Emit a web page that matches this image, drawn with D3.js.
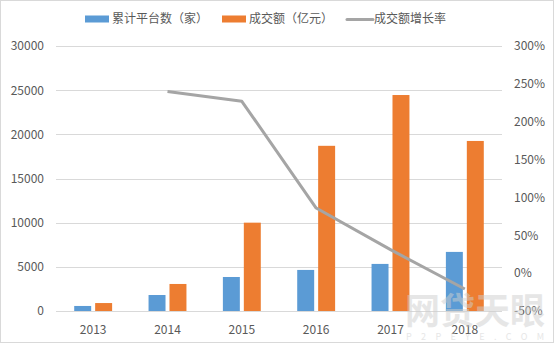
<!DOCTYPE html>
<html>
<head>
<meta charset="utf-8">
<script src="https://cdn.jsdelivr.net/npm/d3@7/dist/d3.min.js"></script>
<style>
  html, body { margin: 0; padding: 0; background: #fff; }
  svg { display: block; }
  text { font-family: "Noto Sans CJK SC", "Noto Sans", sans-serif; }
</style>
</head>
<body>
<svg id="chart" width="554" height="344"></svg>
<script>
// P2P lending: cumulative platforms, turnover and turnover growth by year
const years = ["2013", "2014", "2015", "2016", "2017", "2018"];
const platforms = [570, 1810, 3850, 4650, 5330, 6690];          // 累计平台数（家）
const turnover = [900, 3060, 10000, 18700, 24450, 19250];       // 成交额（亿元）
const growth = [null, 2.40, 2.27, 0.86, 0.31, -0.21];           // 成交额增长率
const leftTicks = [0, 5000, 10000, 15000, 20000, 25000, 30000];
const rightTicks = [-0.5, 0, 0.5, 1, 1.5, 2, 2.5, 3];
const seriesNames = ["累计平台数（家）", "成交额（亿元）", "成交额增长率"];

const W = 554, H = 344;
const m = { left: 56, right: 52, top: 46, bottom: 33 };
const colors = { platforms: "#5B9BD5", turnover: "#ED7D31", growth: "#A5A5A5" };
const textColor = "#595959";
const gridColor = "#D9D9D9";

const svg = d3.select("#chart");

// outer frame
svg.append("rect")
  .attr("x", 0.5).attr("y", 0.5)
  .attr("width", W - 1).attr("height", H - 2)
  .attr("fill", "#fff").attr("stroke", "#D9D9D9");

const x = d3.scaleBand().domain(years).range([m.left, W - m.right]);
const groupW = x.bandwidth() * 0.51;
const x1 = d3.scaleBand().domain(["platforms", "turnover"])
  .range([(x.bandwidth() - groupW) / 2, (x.bandwidth() + groupW) / 2])
  .paddingInner(0.19);
const yL = d3.scaleLinear().domain([0, 30000]).range([H - m.bottom, m.top]);
const yR = d3.scaleLinear().domain([-0.5, 3]).range([H - m.bottom, m.top]);

// gridlines from the left axis
svg.append("g")
  .selectAll("line").data(leftTicks).join("line")
  .attr("x1", m.left).attr("x2", W - m.right)
  .attr("y1", d => Math.round(yL(d)) + 0.5).attr("y2", d => Math.round(yL(d)) + 0.5)
  .attr("stroke", gridColor).attr("stroke-width", 1);

// left axis labels
const leftAxis = svg.append("g").attr("transform", `translate(${m.left - 12},0)`)
  .call(d3.axisLeft(yL).tickValues(leftTicks).tickFormat(d3.format("d")).tickSize(0).tickPadding(0));
leftAxis.select(".domain").remove();
leftAxis.selectAll("text").attr("fill", textColor).attr("font-size", 12);

// right axis labels
const rightAxis = svg.append("g").attr("transform", `translate(${W - m.right + 12},0)`)
  .call(d3.axisRight(yR).tickValues(rightTicks).tickFormat(d => Math.round(d * 100) + "%").tickSize(0).tickPadding(0));
rightAxis.select(".domain").remove();
rightAxis.selectAll("text").attr("fill", textColor).attr("font-size", 12);

// category axis
const bottomAxis = svg.append("g").attr("transform", `translate(0,${H - m.bottom})`)
  .call(d3.axisBottom(x).tickSize(0).tickPadding(14));
bottomAxis.select(".domain").remove();
bottomAxis.selectAll("text").attr("fill", textColor).attr("font-size", 12);

// bars
const groups = svg.append("g").selectAll("g").data(years).join("g")
  .attr("transform", d => `translate(${x(d)},0)`);
groups.append("rect")
  .attr("x", x1("platforms")).attr("width", x1.bandwidth())
  .attr("y", (d, i) => yL(platforms[i]))
  .attr("height", (d, i) => yL(0) - yL(platforms[i]))
  .attr("fill", colors.platforms);
groups.append("rect")
  .attr("x", x1("turnover")).attr("width", x1.bandwidth())
  .attr("y", (d, i) => yL(turnover[i]))
  .attr("height", (d, i) => yL(0) - yL(turnover[i]))
  .attr("fill", colors.turnover);

// growth line on the right axis
const line = d3.line()
  .defined(d => d.v !== null)
  .x(d => x(d.year) + x.bandwidth() / 2)
  .y(d => yR(d.v));
svg.append("path")
  .datum(years.map((year, i) => ({ year, v: growth[i] })))
  .attr("d", line)
  .attr("fill", "none")
  .attr("stroke", colors.growth)
  .attr("stroke-width", 3)
  .attr("stroke-linejoin", "round");

// legend
const legend = svg.append("g").attr("transform", "translate(0,19)");
const items = [
  { name: seriesNames[0], color: colors.platforms, type: "rect", x: 85 },
  { name: seriesNames[1], color: colors.turnover, type: "rect", x: 222 },
  { name: seriesNames[2], color: colors.growth, type: "line", x: 347 }
];
items.forEach(it => {
  if (it.type === "rect") {
    legend.append("rect").attr("x", it.x).attr("y", -3.5).attr("width", 24).attr("height", 7).attr("fill", it.color);
  } else {
    legend.append("line").attr("x1", it.x).attr("x2", it.x + 26).attr("y1", 0.5).attr("y2", 0.5)
      .attr("stroke", it.color).attr("stroke-width", 3).attr("stroke-linecap", "round");
  }
  legend.append("text").attr("x", it.x + 27).attr("y", 0).attr("dy", "0.36em")
    .attr("fill", textColor).attr("font-size", 12).text(it.name);
});

// site watermark
const wm = svg.append("g").attr("opacity", 0.5).attr("pointer-events", "none");
wm.append("text").attr("x", 405).attr("y", 324)
  .attr("font-size", 36).attr("font-weight", "bold").attr("fill", "#cfcfcf")
  .attr("textLength", 140).attr("lengthAdjust", "spacingAndGlyphs")
  .text("网贷天眼");
wm.append("text").attr("x", 406).attr("y", 340)
  .attr("font-size", 9).attr("fill", "#cfcfcf")
  .attr("textLength", 138).attr("lengthAdjust", "spacing")
  .text("P2PEYE.COM");
</script>
</body>
</html>
